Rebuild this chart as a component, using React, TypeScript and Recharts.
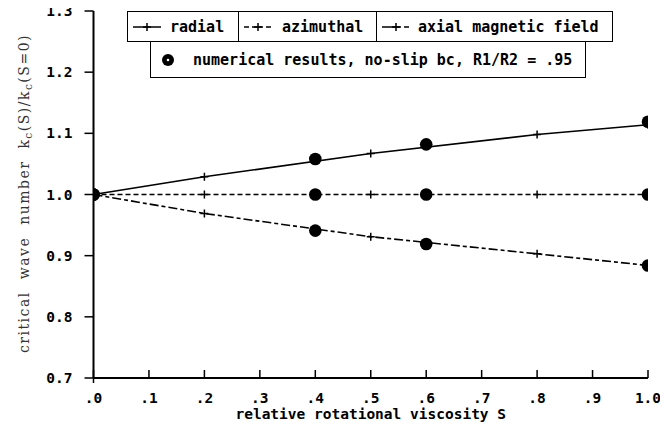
import React from 'react';
import { ComposedChart, Line, Scatter, XAxis, YAxis, Legend } from 'recharts';

// Theory curves (relative rotational viscosity S -> k_c(S)/k_c(S=0))
const theoryS = [0, 0.2, 0.5, 0.8, 1.0];
const radialK = [1.0, 1.029, 1.067, 1.098, 1.114];
const azimuthalK = [1.0, 1.0, 1.0, 1.0, 1.0];
const axialK = [1.0, 0.969, 0.931, 0.903, 0.884];

// Numerical results, no-slip bc, R1/R2 = .95
const numS = [0, 0.4, 0.6, 1.0];
const numRadialK = [1.0, 1.058, 1.082, 1.119];
const numAzimuthalK = [1.0, 1.0, 1.0, 1.0];
const numAxialK = [1.0, 0.941, 0.919, 0.884];

const yTicks = [0.7, 0.8, 0.9, 1.0, 1.1, 1.2, 1.3];
const xTicks = [0, 0.1, 0.2, 0.3, 0.4, 0.5, 0.6, 0.7, 0.8, 0.9, 1.0];
const xTickLabels = ['.0', '.1', '.2', '.3', '.4', '.5', '.6', '.7', '.8', '.9', '1.0'];

const legendTheory = ['radial', 'azimuthal', 'axial magnetic field'];
const legendNumerical = 'numerical results, no-slip bc, R1/R2 = .95';
const xTitle = 'relative rotational viscosity S';

const toSeries = (xs: number[], ys: number[]) => xs.map((s, i) => ({ s, k: ys[i] }));
const radialData = toSeries(theoryS, radialK);
const azimuthalData = toSeries(theoryS, azimuthalK);
const axialData = toSeries(theoryS, axialK);
const numericalData = [
  ...toSeries(numS, numRadialK),
  ...toSeries(numS, numAzimuthalK),
  ...toSeries(numS, numAxialK),
];

const MONO = '"DejaVu Sans Mono", monospace';
const DASH_AZ = '5 3';
const DASH_AX = '9 3 4 3';

const PlusDot = (props: any) => {
  const { cx, cy, index } = props;
  if (cx == null || cy == null) return <g key={`e${index}`} />;
  return (
    <path
      key={`p${index}`}
      d={`M${cx - 4},${cy}H${cx + 4}M${cx},${cy - 4}V${cy + 4}`}
      stroke="#000"
      strokeWidth={1.5}
      fill="none"
    />
  );
};

const CircleShape = (props: any) => {
  const { cx, cy } = props;
  return <circle cx={cx} cy={cy} r={6.3} fill="#000" />;
};

const XTick = (props: any) => {
  const { x, y, payload, index } = props;
  return (
    <g>
      <line x1={x} x2={x} y1={y} y2={y - 8} stroke="#000" strokeWidth={1.5} />
      {index === 0 && <line x1={x} x2={x} y1={y} y2={y + 5} stroke="#000" strokeWidth={1.5} />}
      <text
        x={x}
        y={y + 25}
        textAnchor="middle"
        fontFamily={MONO}
        fontWeight="bold"
        fontSize={14.5}
        fill="#000"
      >
        {xTickLabels[xTicks.indexOf(payload.value)] ?? String(payload.value)}
      </text>
    </g>
  );
};

const YLabel = (props: any) => {
  const vb = props.viewBox || { x: 0, y: 0, width: 0, height: 0 };
  const cx = vb.x + 24;
  const cy = vb.y + vb.height / 2 - 1;
  return (
    <text
      x={cx}
      y={cy}
      transform={`rotate(-90 ${cx} ${cy})`}
      textAnchor="middle"
      dominantBaseline="central"
      fontFamily='"DejaVu Serif", serif'
      fontSize={14}
      fill="#333"
      style={{ letterSpacing: '1.5px', wordSpacing: '6px' }}
    >
      critical wave number k
      <tspan fontSize={10.5} dy={4}>c</tspan>
      <tspan dy={-4}>(S)/k</tspan>
      <tspan fontSize={10.5} dy={4}>c</tspan>
      <tspan dy={-4}>(S=0)</tspan>
    </text>
  );
};

const XLabel = (props: any) => {
  const vb = props.viewBox || { x: 0, y: 0, width: 0, height: 0 };
  return (
    <text
      x={vb.x + vb.width / 2}
      y={vb.y + 41}
      textAnchor="middle"
      fontFamily={MONO}
      fontWeight="bold"
      fontSize={14.5}
      fill="#000"
    >
      {xTitle}
    </text>
  );
};

const LineSymbol = ({ left, right }: { left?: string; right?: string }) => (
  <svg width={28} height={10} style={{ display: 'block' }}>
    <line x1={0} x2={14} y1={5} y2={5} stroke="#000" strokeWidth={1.5} strokeDasharray={left} />
    <line x1={14} x2={28} y1={5} y2={5} stroke="#000" strokeWidth={1.5} strokeDasharray={right} />
    <path d="M14,1V9M10,5H18" stroke="#000" strokeWidth={1.5} />
  </svg>
);

const Box = ({ left, top, width, height, children }: any) => (
  <div
    style={{
      position: 'absolute',
      left,
      top,
      width,
      height,
      border: '1.5px solid #000',
      boxSizing: 'border-box',
      background: '#fff',
    }}
  >
    {children}
  </div>
);

const Item = ({ symLeft, textLeft, symbol, text }: any) => (
  <>
    <div style={{ position: 'absolute', left: symLeft, top: 0, bottom: 0, display: 'flex', alignItems: 'center' }}>
      {symbol}
    </div>
    <div
      style={{
        position: 'absolute',
        left: textLeft,
        top: 0,
        bottom: 0,
        display: 'flex',
        alignItems: 'center',
        whiteSpace: 'pre',
      }}
    >
      {text}
    </div>
  </>
);

const LegendBoxes = () => (
  <div
    style={{
      position: 'relative',
      width: 668,
      height: 80,
      fontFamily: MONO,
      fontWeight: 'bold',
      fontSize: 15,
      color: '#000',
    }}
  >
    <Box left={127} top={11} width={112} height={31}>
      <Item symLeft={5} textLeft={42} symbol={<LineSymbol />} text={legendTheory[0]} />
    </Box>
    <Box left={238} top={11} width={139} height={31}>
      <Item symLeft={5} textLeft={43} symbol={<LineSymbol left={DASH_AZ} right={DASH_AZ} />} text={legendTheory[1]} />
    </Box>
    <Box left={376} top={11} width={237} height={31}>
      <Item symLeft={5} textLeft={41} symbol={<LineSymbol right={DASH_AZ} />} text={legendTheory[2]} />
    </Box>
    <Box left={150} top={41} width={436} height={37}>
      <Item
        symLeft={10}
        textLeft={42}
        symbol={
          <svg width={14} height={14} style={{ display: 'block' }}>
            <circle cx={7} cy={7} r={6} fill="#000" />
            <circle cx={7} cy={7} r={1.3} fill="#fff" />
          </svg>
        }
        text={legendNumerical}
      />
    </Box>
  </div>
);

export default function App() {
  return (
    <div style={{ margin: -8, width: 668, height: 433 }}>
      <ComposedChart
        width={668}
        height={433}
        margin={{ top: 11, right: 20, bottom: 0, left: 0 }}
        style={{ background: '#fff' }}
      >
        <XAxis
          type="number"
          dataKey="s"
          domain={[0, 1]}
          ticks={xTicks}
          interval={0}
          height={55}
          tickSize={0}
          tickMargin={0}
          tickLine={false}
          axisLine={{ stroke: '#000', strokeWidth: 2 }}
          tick={<XTick />}
          label={<XLabel />}
          allowDataOverflow
        />
        <YAxis
          type="number"
          dataKey="k"
          domain={[0.7, 1.3]}
          ticks={yTicks}
          interval={0}
          width={93.5}
          tickSize={9}
          tickMargin={12}
          tickLine={{ stroke: '#000', strokeWidth: 1.5 }}
          axisLine={{ stroke: '#000', strokeWidth: 2 }}
          tick={{ fontFamily: MONO, fontWeight: 'bold', fontSize: 14.5, fill: '#000' }}
          tickFormatter={(v: number) => v.toFixed(1)}
          label={<YLabel />}
          allowDataOverflow
        />
        <Legend
          layout="vertical"
          align="center"
          verticalAlign="middle"
          content={() => <LegendBoxes />}
          wrapperStyle={{ position: 'absolute', left: 0, top: 0, width: 668, height: 80 }}
        />
        <Line
          data={radialData}
          dataKey="k"
          name="radial"
          stroke="#000"
          strokeWidth={1.6}
          dot={PlusDot}
          activeDot={false}
          isAnimationActive={false}
          legendType="none"
        />
        <Line
          data={azimuthalData}
          dataKey="k"
          name="azimuthal"
          stroke="#000"
          strokeWidth={1.6}
          strokeDasharray={DASH_AZ}
          dot={PlusDot}
          activeDot={false}
          isAnimationActive={false}
          legendType="none"
        />
        <Line
          data={axialData}
          dataKey="k"
          name="axial magnetic field"
          stroke="#000"
          strokeWidth={1.6}
          strokeDasharray={DASH_AX}
          dot={PlusDot}
          activeDot={false}
          isAnimationActive={false}
          legendType="none"
        />
        <Scatter
          data={numericalData}
          dataKey="k"
          name="numerical"
          shape={CircleShape}
          isAnimationActive={false}
          legendType="none"
        />
      </ComposedChart>
    </div>
  );
}
